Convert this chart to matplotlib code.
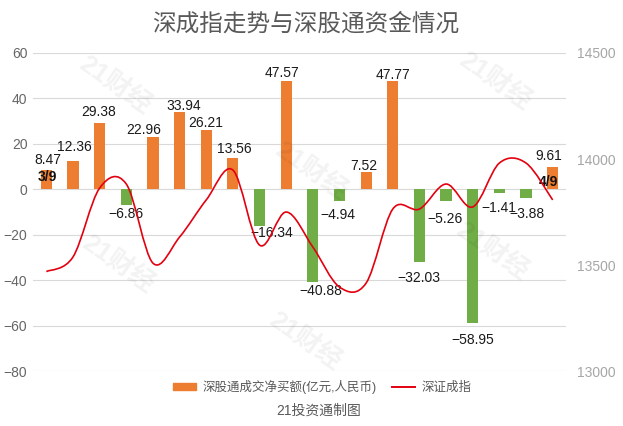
import numpy as np
import matplotlib.pyplot as plt
from matplotlib.path import Path
from matplotlib.patches import PathPatch, Patch
from matplotlib.lines import Line2D

plt.rcParams['font.family'] = ['Liberation Sans', 'Noto Sans CJK SC', 'DejaVu Sans']

# 深股通净买额 (亿元) and 深证成指, 3/9 .. 4/9
flows = [8.47, 12.36, 29.38, -6.86, 22.96, 33.94, 26.21, 13.56, -16.34, 47.57,
         -40.88, -4.94, 7.52, 47.77, -32.03, -5.26, -58.95, -1.41, -3.88, 9.61]
szci = [13469, 13538, 13863, 13882, 13509, 13632, 13807, 13948, 13594, 13750,
        13585, 13396, 13415, 13764, 13764, 13882, 13774, 13981, 13981, 13807]
first_day, last_day = '3/9', '4/9'

left_ticks = [60, 40, 20, 0, -20, -40, -60, -80]
right_ticks = [13000, 13500, 14000, 14500]

# label nudges in pixels (dx, gap from bar end)
label_nudge = [(2, 10), (1, 14), (-1, 11), (0, 9), (-9, 7), (4, 6), (-1, 7), (1, 9),
               (12, 7), (-4, 8), (8, 9), (-2, 14), (-2, 6), (0, 6), (-1, 16),
               (-1, 18), (0, 17), (-1, 15), (1, 16), (-4, 11)]

ORANGE = '#ED7D31'
GREEN = '#70AD47'
RED = '#E3000F'

fig = plt.figure(figsize=(6.23, 4.26), dpi=100)
ax = fig.add_axes([0.053, 0.129, 0.8555, 0.7466])

x = np.arange(len(flows))
colors = [ORANGE if v >= 0 else GREEN for v in flows]
ax.bar(x, flows, width=0.42, color=colors, zorder=2)

ax.set_xlim(-0.5, len(flows) - 0.5)
ax.set_ylim(-80, 60)
ax.set_yticks(left_ticks)
ax.set_xticks([])
ax.yaxis.grid(True, color='#d9d9d9', lw=0.8, zorder=0)
ax.tick_params(axis='y', length=0, pad=4, labelsize=10, labelcolor='#666666')
for s in ax.spines.values():
    s.set_visible(False)
ax.set_yticklabels([str(t).replace('-', '\u2212') for t in left_ticks])

for i, v in enumerate(flows):
    dx, gap = label_nudge[i]
    dy = gap if v >= 0 else -gap
    ax.annotate(f'{v:.2f}'.replace('-', '\u2212'), xy=(i, v), xytext=(dx, dy),
                textcoords='offset pixels', ha='center', va='center',
                fontsize=10, color='#1a1a1a', zorder=5)

# date labels sitting on the zero line
ax.annotate(first_day, xy=(0, 0), xytext=(1, 12), textcoords='offset pixels',
            ha='center', va='center', fontsize=10, fontweight='bold', color='#111111', zorder=5)
ax.annotate(last_day, xy=(len(flows) - 1, 0), xytext=(-4, 7), textcoords='offset pixels',
            ha='center', va='center', fontsize=10, fontweight='bold', color='#111111', zorder=5)

# right axis: smooth line through the index values
ax2 = ax.twinx()
ax2.set_ylim(13000, 14500)
ax2.set_yticks(right_ticks)
ax2.tick_params(axis='y', length=0, pad=8, labelsize=10, labelcolor='#a6a6a6')
for s in ax2.spines.values():
    s.set_visible(False)

pts = np.column_stack([x, szci]).astype(float)
ext = np.vstack([pts[0], pts, pts[-1]])
verts = [pts[0]]
codes = [Path.MOVETO]
for i in range(len(pts) - 1):
    p0, p1, p2, p3 = ext[i], ext[i + 1], ext[i + 2], ext[i + 3]
    c1 = p1 + (p2 - p0) / 6
    c2 = p2 - (p3 - p1) / 6
    verts += [c1, c2, p2]
    codes += [Path.CURVE4] * 3
ax2.add_patch(PathPatch(Path(verts, codes), fc='none', ec=RED, lw=1.2, zorder=3))

# faint watermark
for wx, wy in [(0.185, 0.80), (0.795, 0.81), (0.50, 0.60), (0.79, 0.41),
               (0.19, 0.38), (0.49, 0.20)]:
    fig.text(wx, wy, '21财经', rotation=-35, fontsize=19, fontweight='bold',
             color='#000000', alpha=0.05, ha='center', va='center')

fig.text(0.49, 0.942, '深成指走势与深股通资金情况', ha='center', va='center',
         fontsize=17, color='#595959')

handles = [Patch(color=ORANGE), Line2D([0], [0], color=RED, lw=1.4)]
fig.legend(handles, ['深股通成交净买额(亿元,人民币)', '深证成指'], loc='center',
           bbox_to_anchor=(0.517, 0.0915), ncol=2, frameon=False, fontsize=9,
           handlelength=1.9, handleheight=0.55, columnspacing=1.2, handletextpad=0.5,
           labelcolor='#595959')
fig.text(0.512, 0.035, '21投资通制图', ha='center', va='center', fontsize=10, color='#595959')

fig.savefig('out.png', dpi=100)
